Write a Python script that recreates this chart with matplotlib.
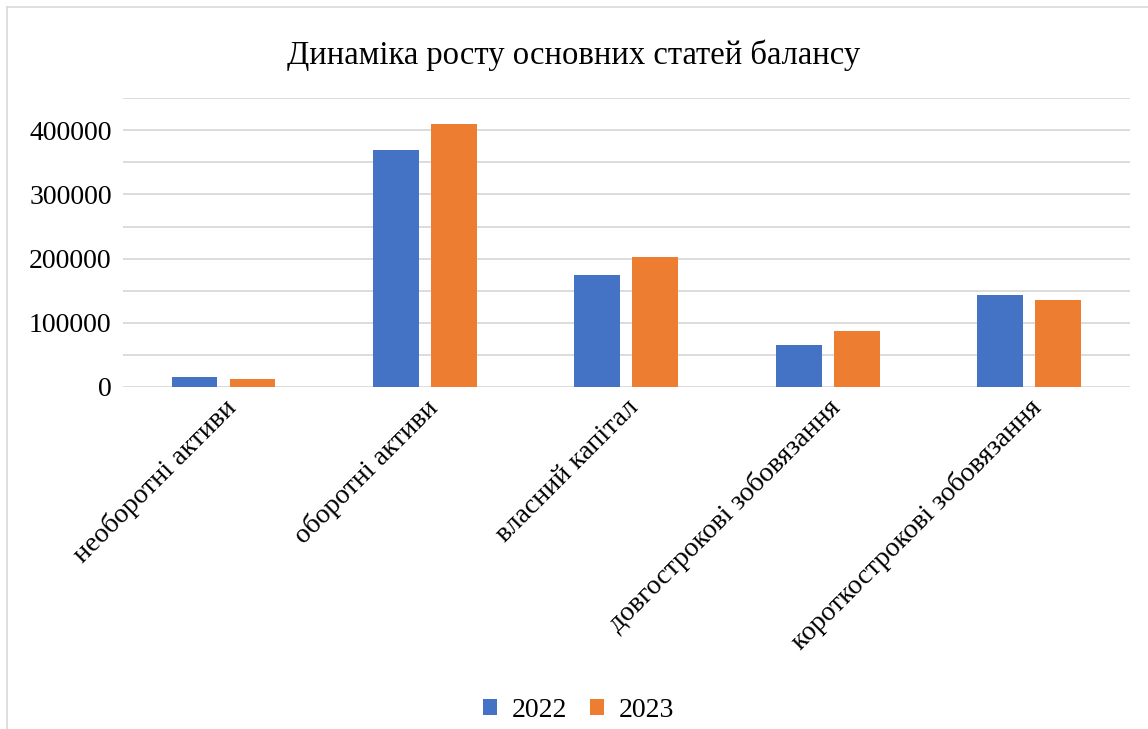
import matplotlib
matplotlib.use("Agg")
import matplotlib.pyplot as plt
import numpy as np
from matplotlib.lines import Line2D
from matplotlib.ticker import MultipleLocator

categories = ["необоротні активи", "оборотні активи", "власний капітал",
              "довгострокові зобовязання", "короткострокові зобовязання"]
years = ["2022", "2023"]
values_2022 = [15600, 369500, 174300, 65000, 143000]
values_2023 = [12000, 410300, 202300, 86900, 135200]
colors = ["#4472C4", "#ED7D31"]

plt.rcParams['font.family'] = ['Liberation Serif', 'DejaVu Serif']

fig = plt.figure(figsize=(11.48, 7.29), dpi=100)
ax = fig.add_axes([0.107, 0.4696, 0.877, 0.3954])

x = np.arange(len(categories))
w = 0.228
off = 0.144
ax.bar(x - off, values_2022, width=w, color=colors[0], label=years[0], zorder=3)
ax.bar(x + off, values_2023, width=w, color=colors[1], label=years[1], zorder=3)

ax.set_xlim(-0.5, len(categories) - 0.5)
ax.set_ylim(0, 450000)
ax.yaxis.set_major_locator(MultipleLocator(100000))
ax.yaxis.set_minor_locator(MultipleLocator(50000))
ax.grid(axis='y', which='both', color='#D9D9D9', linewidth=1.3, zorder=0)
for s in ax.spines.values():
    s.set_visible(False)
ax.tick_params(axis='y', which='both', length=0, pad=8, labelsize=20)
ax.tick_params(axis='x', length=0, pad=6, labelsize=20)
ax.set_xticks(x)
ax.set_xticklabels(categories, rotation=45, ha='right', rotation_mode='anchor')

fig.text(0.5, 0.924, "Динаміка росту основних статей балансу",
         ha='center', va='center', fontsize=23.5)

handles, labels = ax.get_legend_handles_labels()
fig.legend(handles, labels, loc='center', bbox_to_anchor=(0.504, 0.026), ncol=2,
           frameon=False, fontsize=20, handlelength=0.5, handleheight=0.5,
           columnspacing=0.8, handletextpad=0.55)

# chart area border (top and left edges visible)
fig.add_artist(Line2D([0.006, 1.0], [0.991, 0.991], transform=fig.transFigure,
                      color='#D9D9D9', linewidth=1.2))
fig.add_artist(Line2D([0.006, 0.006], [0.0, 0.991], transform=fig.transFigure,
                      color='#D9D9D9', linewidth=1.2))

fig.savefig("out.png", dpi=100, facecolor='white')
